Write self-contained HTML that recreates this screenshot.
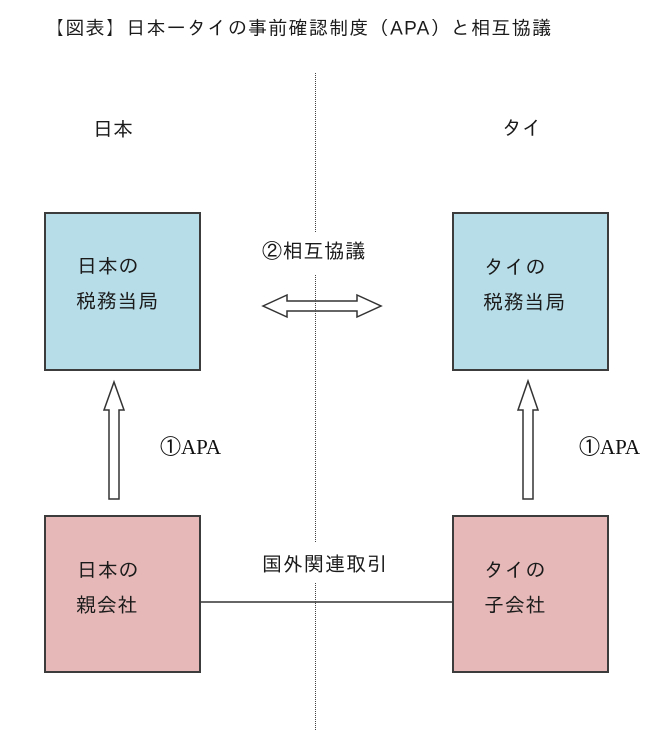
<!DOCTYPE html>
<html>
<head>
<meta charset="utf-8">
<style>
  html, body { margin: 0; padding: 0; background: #ffffff; }
  body { width: 666px; height: 753px; overflow: hidden; position: relative; }
  svg { position: absolute; left: 0; top: 0; }
  .jp { font-family: "Liberation Sans", "IPAGothic", "Noto Sans CJK JP", sans-serif; fill: #1a1a1a; }
  .apa { font-family: "Liberation Serif", "IPAGothic", serif; fill: #111; }
</style>
</head>
<body>
<svg width="666" height="753" viewBox="0 0 666 753" xmlns="http://www.w3.org/2000/svg">
  <!-- Title -->
  <text class="jp" x="45" y="29" font-size="19" letter-spacing="1.3" dominant-baseline="central">【図表】日本ータイの事前確認制度（APA）と相互協議</text>

  <!-- Country labels -->
  <text class="jp" x="93" y="130" font-size="20" dominant-baseline="central">日本</text>
  <text class="jp" x="502" y="129" font-size="20" dominant-baseline="central">タイ</text>

  <!-- Boxes -->
  <rect x="45" y="213" width="155" height="157" fill="#b7dde8" stroke="#3c3c3c" stroke-width="2"/>
  <rect x="453" y="213" width="155" height="157" fill="#b7dde8" stroke="#3c3c3c" stroke-width="2"/>
  <rect x="45" y="516" width="155" height="156" fill="#e6b9b8" stroke="#3c3c3c" stroke-width="2"/>
  <rect x="453" y="516" width="155" height="156" fill="#e6b9b8" stroke="#3c3c3c" stroke-width="2"/>

  <!-- Connector line -->
  <line x1="201" y1="602" x2="452" y2="602" stroke="#333" stroke-width="1.5"/>

  <!-- Up arrows -->
  <polygon points="114,382 124,410 119,410 119,499 109,499 109,410 104,410" fill="#ffffff" stroke="#333" stroke-width="1.5" stroke-linejoin="miter"/>
  <polygon points="528,381 538,410 533,410 533,499 523,499 523,410 518,410" fill="#ffffff" stroke="#333" stroke-width="1.5" stroke-linejoin="miter"/>

  <!-- Double arrow -->
  <polygon points="263,306 287,295 287,301 357,301 357,295 381,306 357,317 357,311 287,311 287,317" fill="#ffffff" stroke="#333" stroke-width="1.5" stroke-linejoin="miter"/>

  <!-- Dotted divider -->
  <g stroke="#444" stroke-width="1" stroke-dasharray="1,1">
    <line x1="315.5" y1="73" x2="315.5" y2="232"/>
    <line x1="315.5" y1="275" x2="315.5" y2="543"/>
    <line x1="315.5" y1="583" x2="315.5" y2="730"/>
  </g>

  <!-- Box texts -->
  <text class="jp" x="77" y="267" font-size="20" letter-spacing="0.7" dominant-baseline="central">日本の</text>
  <text class="jp" x="76" y="302" font-size="20" letter-spacing="0.7" dominant-baseline="central">税務当局</text>

  <text class="jp" x="484" y="268" font-size="20" letter-spacing="0.7" dominant-baseline="central">タイの</text>
  <text class="jp" x="483" y="303" font-size="20" letter-spacing="0.7" dominant-baseline="central">税務当局</text>

  <text class="jp" x="77" y="571" font-size="20" letter-spacing="0.7" dominant-baseline="central">日本の</text>
  <text class="jp" x="76" y="606" font-size="20" letter-spacing="0.7" dominant-baseline="central">親会社</text>

  <text class="jp" x="484" y="571" font-size="20" letter-spacing="0.7" dominant-baseline="central">タイの</text>
  <text class="jp" x="484" y="606" font-size="20" letter-spacing="0.7" dominant-baseline="central">子会社</text>

  <!-- Middle labels -->
  <text class="jp" x="262" y="252" font-size="20" letter-spacing="0.8" dominant-baseline="central">②相互協議</text>
  <text class="jp" x="262" y="565" font-size="20" letter-spacing="1" dominant-baseline="central">国外関連取引</text>

  <!-- APA labels -->
  <text class="apa" x="160" y="447" font-size="21" dominant-baseline="central">①APA</text>
  <text class="apa" x="579" y="447" font-size="21" dominant-baseline="central">①APA</text>
</svg>
</body>
</html>
